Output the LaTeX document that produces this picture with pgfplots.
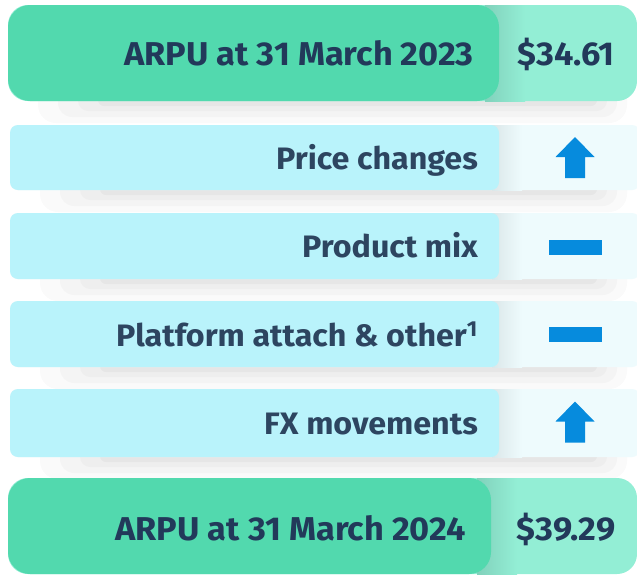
\documentclass[border=0pt]{standalone}
\usepackage{pgfplots}
\pgfplotsset{compat=1.18}
\usepackage{fontspec}
\setmainfont{Fira Sans}[FakeStretch=1.04]
\definecolor{gdark}{HTML}{52D9AE}
\definecolor{glight}{HTML}{93EED5}
\definecolor{cyanbox}{HTML}{B9F3FB}
\definecolor{cfaint}{HTML}{EEFBFD}
\definecolor{txt}{HTML}{22395A}
\definecolor{txtmid}{HTML}{2D4560}
\definecolor{arrowblue}{HTML}{068BDD}
\pgfdeclareplotmark{uparrow}{%
  \pgfpathmoveto{\pgfpoint{0pt}{20.5pt}}%
  \pgfpathlineto{\pgfpoint{19.5pt}{0.5pt}}%
  \pgfpathlineto{\pgfpoint{10pt}{0.5pt}}%
  \pgfpathlineto{\pgfpoint{10pt}{-20.5pt}}%
  \pgfpathlineto{\pgfpoint{-10pt}{-20.5pt}}%
  \pgfpathlineto{\pgfpoint{-10pt}{0.5pt}}%
  \pgfpathlineto{\pgfpoint{-19.5pt}{0.5pt}}%
  \pgfpathclose\pgfusepathqfill}
\pgfdeclareplotmark{flatdash}{%
  \pgfpathrectangle{\pgfpoint{-26.5pt}{-7.5pt}}{\pgfpoint{53pt}{15pt}}%
  \pgfusepathqfill}
\newcommand{\dropshadow}[4]{%
  \fill[black,opacity=0.02,rounded corners=18pt] ({#1+30},{#2+4}) rectangle ({#3-10},{#4+22});
  \fill[black,opacity=0.022,rounded corners=14pt] ({#1+50},{#2+4}) rectangle ({#3-20},{#4+16});
  \fill[black,opacity=0.025,rounded corners=10pt] ({#1+70},{#2+4}) rectangle ({#3-30},{#4+10});
  \fill[black,opacity=0.03,rounded corners=6pt] ({#1+90},{#2+4}) rectangle ({#3-40},{#4+5});
}
\newcommand{\midrow}[2]{%
  \dropshadow{10}{#1}{637}{#2}
  \fill[cfaint,rounded corners=8pt] (10,#1) rectangle (640,#2);
  \shade[left color=cfaint!92!black, right color=cfaint] (492,#1) rectangle (522,#2);
  \fill[cyanbox,rounded corners=8pt] (10,#1) rectangle (499,#2);
}
\begin{document}
\begin{tikzpicture}
\begin{axis}[at={(0,0)}, anchor=south west, width=637pt, height=574pt,
  scale only axis, xmin=0, xmax=637, ymin=0, ymax=574, y dir=reverse,
  hide axis, clip=true]
\fill[white] (0,0) rectangle (637,574);
% top row
\dropshadow{8}{5}{637}{101}
\fill[glight,rounded corners=20pt] (8,5) rectangle (637,101);
\shade[left color=glight!88!black, right color=glight] (485,5) rectangle (525,101);
\fill[gdark,rounded corners=22pt] (8,5) rectangle (499,101);
% middle rows
\midrow{125}{190}
\midrow{213}{279}
\midrow{301}{367}
\midrow{389}{457}
% bottom row
\fill[glight,rounded corners=20pt] (8,478) rectangle (637,574);
\shade[left color=glight!88!black, right color=glight] (477,478) rectangle (517,574);
\fill[gdark,rounded corners=22pt] (8,478) rectangle (491,574);
% labels
\begin{scope}[every node/.style={text=txt,inner sep=0pt,font=\fontsize{33}{38}\selectfont\bfseries}]
\node[anchor=base east] at (474,65) {ARPU at 31 March 2023};
\node[anchor=base] at (566,65) {\$34.61};
\node[anchor=base east] at (466,540) {ARPU at 31 March 2024};
\node[anchor=base] at (566,540) {\$39.29};
\end{scope}
\begin{scope}[every node/.style={text=txtmid,inner sep=0pt,font=\fontsize{31}{36}\selectfont\bfseries}]
\node[anchor=base east] at (478,169) {Price changes};
\node[anchor=base east] at (478,257) {Product mix};
\node[anchor=base east] at (478,346) {Platform attach \& other\textsuperscript{1}};
\node[anchor=base east] at (478,434) {FX movements};
\end{scope}
% change indicators: up = increase, dash = no change
\addplot[only marks, mark=uparrow, color=arrowblue] coordinates {(575,157.5) (575,422)};
\addplot[only marks, mark=flatdash, color=arrowblue] coordinates {(575.5,247.5) (575.5,334.5)};
\end{axis}
\end{tikzpicture}
\end{document}
